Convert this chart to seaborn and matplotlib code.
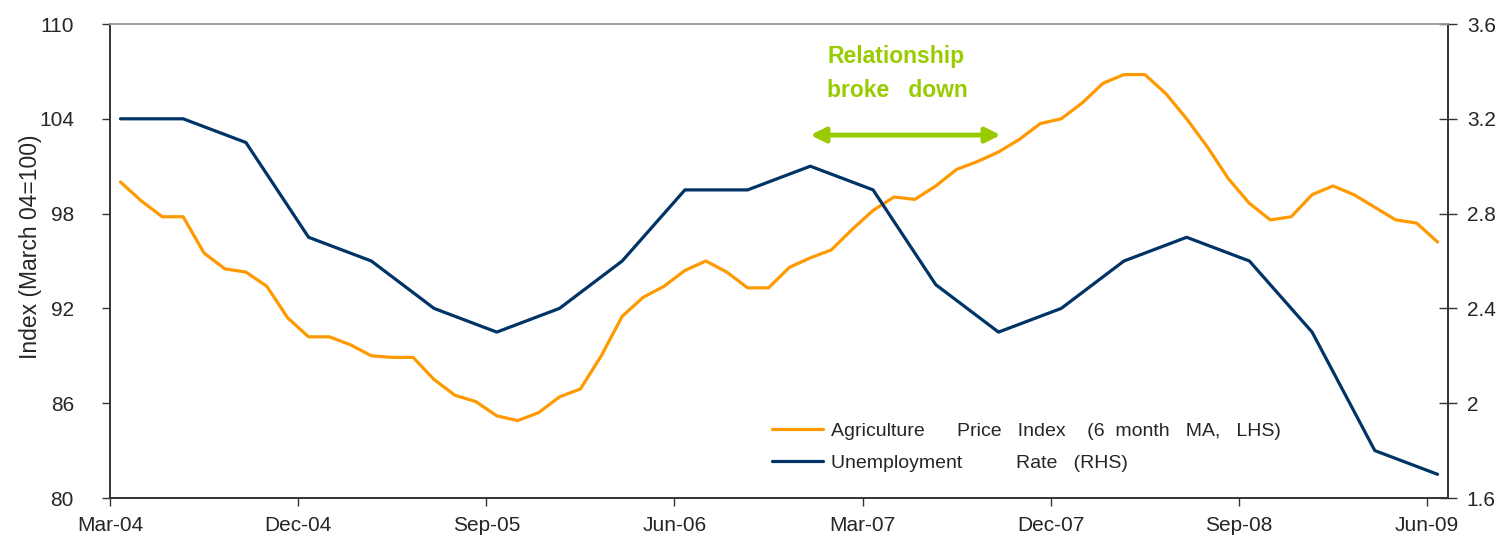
import numpy as np
import pandas as pd
import matplotlib
matplotlib.use('Agg')
import matplotlib.pyplot as plt
from matplotlib import font_manager
from matplotlib.ticker import FuncFormatter
import seaborn as sns

# Du lieu (doc tu hinh)
months = pd.date_range('2004-03-01', periods=64, freq='MS')
month_labels = [d.strftime('%b-%y') for d in months]

agri_index = [
    100.0, 98.8, 97.8, 97.8, 95.5, 94.5, 94.3, 93.4, 91.4, 90.2,
    90.2, 89.7, 89.0, 88.9, 88.9, 87.5, 86.5, 86.1, 85.2, 84.9,
    85.4, 86.4, 86.9, 89.0, 91.5, 92.7, 93.4, 94.4, 95.0, 94.3,
    93.3, 93.3, 94.6, 95.2, 95.7, 97.0, 98.2, 99.05, 98.9, 99.75,
    100.8, 101.3, 101.9, 102.7, 103.7, 104.0, 105.0, 106.25, 106.8, 106.8,
    105.6, 104.0, 102.2, 100.2, 98.65, 97.6, 97.8, 99.2, 99.75, 99.2,
    98.4, 97.6, 97.4, 96.2,
]

# ty le that nghiep theo quy (Mar-04 .. Jun-09)
unemp_rate = [3.2, 3.2, 3.1, 2.7, 2.6, 2.4, 2.3, 2.4, 2.6, 2.9, 2.9,
              3.0, 2.9, 2.5, 2.3, 2.4, 2.6, 2.7, 2.6, 2.3, 1.8, 1.7]
unemp_idx = list(range(0, 64, 3))

left_ticks = [80, 86, 92, 98, 104, 110]
right_ticks = [1.6, 2.0, 2.4, 2.8, 3.2, 3.6]
xtick_idx = [0, 9, 18, 27, 36, 45, 54, 63]

ORANGE = '#FF9900'
NAVY = '#003366'
GREEN = '#99CC00'

df_agri = pd.DataFrame({'idx': np.arange(len(agri_index)), 'value': agri_index})
df_unemp = pd.DataFrame({'idx': unemp_idx, 'value': unemp_rate})

sns.set_style('white')


def pick_font(name, fallback):
    try:
        font_manager.findfont(name, fallback_to_default=False)
        return name
    except Exception:
        return fallback


narrow = pick_font('Liberation Sans Narrow', 'Liberation Sans')
regular = pick_font('Liberation Sans', 'DejaVu Sans')
plt.rcParams['font.family'] = [narrow, 'DejaVu Sans']

fig = plt.figure(figsize=(14.97, 5.53), dpi=100)
ax = fig.add_axes([110 / 1497, 1 - 498 / 553, 1338 / 1497, 474 / 553])
ax2 = ax.twinx()

sns.lineplot(data=df_agri, x='idx', y='value', ax=ax, color=ORANGE, lw=2.3,
             label='Agriculture      Price   Index    (6  month   MA,   LHS)',
             legend=False)
sns.lineplot(data=df_unemp, x='idx', y='value', ax=ax2, color=NAVY, lw=2.3,
             label='Unemployment          Rate   (RHS)', legend=False)

ax.set_xlim(-0.5, 63.5)
ax.set_ylim(80, 110)
ax2.set_ylim(1.6, 3.6)
ax.set_yticks(left_ticks)
ax2.set_yticks(right_ticks)
ax2.yaxis.set_major_formatter(FuncFormatter(lambda v, p: '%g' % round(v, 1)))
ax.set_xticks([i - 0.5 for i in xtick_idx])
ax.set_xticklabels([month_labels[i] for i in xtick_idx])
ax.set_xlabel('')
ax2.set_xlabel('')
ax2.set_ylabel('')

ax.set_ylabel('Index (March 04=100)', fontsize=16.5, family=[regular, 'DejaVu Sans'])
ax.yaxis.set_label_coords(-0.051, 0.53)

for a in (ax, ax2):
    for s in a.spines.values():
        s.set_color('#333333')
        s.set_linewidth(1.2)
    a.spines['top'].set_color('#A0A0A0')
    a.grid(False)

ax.tick_params(axis='y', direction='out', length=6, width=1, color='#333333',
               labelsize=15, pad=20, left=True)
ax.tick_params(axis='x', direction='out', length=6, width=1, color='#333333',
               labelsize=15, pad=7, bottom=True)
ax2.tick_params(axis='y', direction='inout', length=13, width=1, color='#333333',
                labelsize=15, pad=7, right=True)

# chu thich "Relationship broke down"
ax.annotate('', xy=(42.1, 102.97), xytext=(33.0, 102.97),
            arrowprops=dict(arrowstyle='<|-|>', color=GREEN, lw=3.5,
                            mutation_scale=22, shrinkA=0, shrinkB=0))
ax.text(33.8, 106.87, 'Relationship\nbroke   down', color=GREEN, fontsize=16.5,
        fontweight='bold', ha='left', va='center', linespacing=1.6)

h1, l1 = ax.get_legend_handles_labels()
h2, l2 = ax2.get_legend_handles_labels()
ax2.legend(h1 + h2, l1 + l2, loc='center left',
           bbox_to_anchor=(772 / 1497, 1 - 447 / 553), bbox_transform=fig.transFigure,
           frameon=False, fontsize=14, handlelength=2.6, handletextpad=0.45,
           labelspacing=0.75, borderpad=0, borderaxespad=0)

plt.savefig('out.png', dpi=100)
